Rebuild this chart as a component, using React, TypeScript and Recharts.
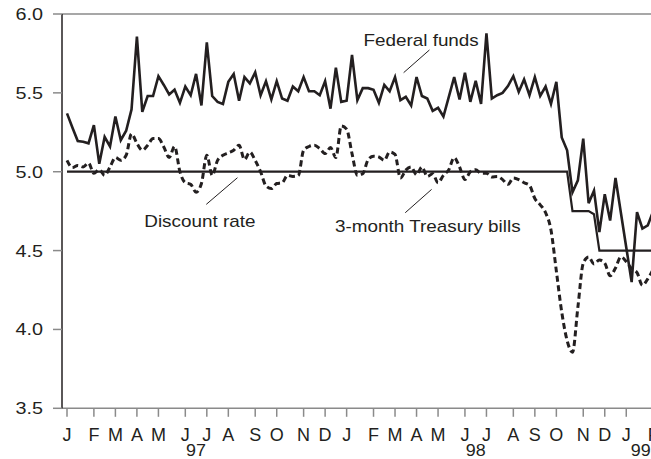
import React from 'react';
import { LineChart, Line, XAxis, YAxis, ReferenceLine, ReferenceDot } from 'recharts';

// weekly averages, week 0 = first week of Jan 1997
const fedFunds = [
  5.37, 5.28, 5.195, 5.19, 5.18, 5.295, 5.05, 5.22, 5.16, 5.35,
  5.2, 5.26, 5.395, 5.856, 5.38, 5.48, 5.48, 5.606, 5.55, 5.49,
  5.52, 5.437, 5.54, 5.485, 5.62, 5.42, 5.82, 5.48, 5.443, 5.43,
  5.57, 5.62, 5.45, 5.6, 5.56, 5.63, 5.485, 5.574, 5.458, 5.574,
  5.464, 5.45, 5.54, 5.51, 5.6, 5.51, 5.51, 5.485, 5.574, 5.4,
  5.66, 5.443, 5.45, 5.74, 5.454, 5.53, 5.53, 5.52, 5.437, 5.55,
  5.51, 5.6, 5.454, 5.475, 5.42, 5.6, 5.48, 5.464, 5.386, 5.405,
  5.35, 5.475, 5.6, 5.458, 5.627, 5.443, 5.576, 5.43, 5.877, 5.464,
  5.485, 5.5, 5.543, 5.606, 5.506, 5.585, 5.485, 5.6, 5.48, 5.54,
  5.43, 5.57, 5.217, 5.136, 4.87, 4.945, 5.21, 4.8, 4.88, 4.617,
  4.857, 4.69, 4.96, 4.74, 4.52, 4.3, 4.744, 4.64, 4.66, 4.75,
];

const treasuryBills = [
  5.072, 5.026, 5.04, 5.03, 5.055, 4.99, 5.013, 4.977, 5.03, 5.09,
  5.072, 5.104, 5.24, 5.18, 5.136, 5.168, 5.21, 5.21, 5.157, 5.09,
  5.16, 5.0, 4.93, 4.92, 4.87, 4.925, 5.104, 4.977, 5.072, 5.104,
  5.12, 5.136, 5.168, 5.077, 5.125, 5.072, 5.0, 4.91, 4.893, 4.925,
  4.93, 4.977, 4.97, 4.975, 5.136, 5.16, 5.168, 5.147, 5.115, 5.153,
  5.09, 5.29, 5.27, 5.115, 4.977, 4.987, 5.077, 5.098, 5.093, 5.072,
  5.125, 5.11, 4.96, 5.01, 5.03, 4.98, 5.03, 4.97, 4.987, 4.93,
  4.977, 5.013, 5.09, 5.03, 4.95, 5.0, 5.013, 4.99, 4.99, 4.967,
  4.97, 4.95, 4.92, 4.96, 4.95, 4.93, 4.914, 4.83, 4.79, 4.74,
  4.63, 4.37, 4.11, 3.93, 3.855, 4.14, 4.42, 4.46, 4.415, 4.44,
  4.42, 4.34, 4.39, 4.46, 4.43, 4.385, 4.36, 4.28, 4.32, 4.38,
];

const discountWeeks = [0, 93, 94, 97, 98, 99, 109];
const discountRates = [5.0, 5.0, 4.75, 4.75, 4.73, 4.5, 4.5];

const monthTicks = [0, 5, 9, 13, 17, 22, 26, 30, 35, 39, 44, 48, 52, 57, 61, 65, 69, 74, 78, 83, 87, 91, 96, 100, 104, 109];
const monthLabels = ['J', 'F', 'M', 'A', 'M', 'J', 'J', 'A', 'S', 'O', 'N', 'D', 'J', 'F', 'M', 'A', 'M', 'J', 'J', 'A', 'S', 'O', 'N', 'D', 'J', 'F'];
const yearTicks = [24, 76, 106.7];
const yearLabels = ['97', '98', '99'];
const rateTicks = [3.5, 4, 4.5, 5, 5.5, 6];

const weekly = fedFunds.map((fed, week) => ({ week, fed, bills: treasuryBills[week] }));
const discount = discountWeeks.map((week, i) => ({ week, rate: discountRates[i] }));

const INK = '#231f20';
const GREY = '#8a8a8a';
const FONT = '"Liberation Sans", Arial, Helvetica, sans-serif';
const X_DOMAIN: [number, number] = [-0.93, 108.6];

const notes = [
  { text: 'Federal funds', at: [65.85, 5.797], line: [[67.4, 5.772], [62.6, 5.628]] },
  { text: 'Discount rate', at: [24.7, 4.647], line: [[25.9, 4.793], [31.7, 4.962]] },
  { text: '3-month Treasury bills', at: [67.1, 4.62], line: [[62.9, 4.74], [67.8, 4.888]] },
];

const RateTick = (props: any) => {
  const { x, y, payload } = props;
  return (
    <text
      transform={`translate(${x},${y + 6}) scale(1.2,1)`}
      textAnchor="end"
      fontSize={16.5}
      fontFamily={FONT}
      fill={INK}
    >
      {payload.value.toFixed(1)}
    </text>
  );
};

const MonthTick = (props: any) => {
  const { x, y, payload } = props;
  return (
    <text x={x} y={y + 22} textAnchor="middle" fontSize={18} fontFamily={FONT} fill={INK}>
      {monthLabels[monthTicks.indexOf(payload.value)]}
    </text>
  );
};

const YearTick = (props: any) => {
  const { x, y, payload } = props;
  return (
    <text
      transform={`translate(${x},${y + 19.7}) scale(1.12,1)`}
      textAnchor="middle"
      fontSize={16}
      fontFamily={FONT}
      fill={INK}
    >
      {yearLabels[yearTicks.indexOf(payload.value)]}
    </text>
  );
};

const NoteText = (text: string) => (props: any) => (
  <text
    transform={`translate(${props.cx},${props.cy}) scale(1.18,1)`}
    textAnchor="middle"
    fontSize={16}
    fontFamily={FONT}
    fill={INK}
  >
    {text}
  </text>
);

export default function App() {
  return (
    <div style={{ position: 'absolute', left: 0, top: 0, width: 651, height: 459, background: '#fff' }}>
      <LineChart width={651} height={459} data={weekly} margin={{ top: 14, right: 0, bottom: 0, left: 0 }}>
        <XAxis
          dataKey="week"
          type="number"
          domain={X_DOMAIN}
          allowDataOverflow
          ticks={monthTicks}
          interval={0}
          height={28}
          tickSize={8.5}
          tickMargin={2}
          axisLine={{ stroke: GREY, strokeWidth: 1.5 }}
          tickLine={{ stroke: GREY, strokeWidth: 1.5 }}
          tick={<MonthTick />}
        />
        <XAxis
          xAxisId="year"
          dataKey="week"
          type="number"
          domain={X_DOMAIN}
          allowDataOverflow
          ticks={yearTicks}
          interval={0}
          height={22.7}
          tickSize={0}
          tickMargin={0}
          axisLine={false}
          tickLine={false}
          tick={<YearTick />}
        />
        <YAxis
          type="number"
          domain={[3.5, 6]}
          ticks={rateTicks}
          interval={0}
          width={62}
          tickSize={9}
          tickMargin={10}
          axisLine={{ stroke: INK, strokeWidth: 1.5 }}
          tickLine={{ stroke: GREY, strokeWidth: 1.5 }}
          tick={<RateTick />}
        />
        <ReferenceLine y={6} stroke={GREY} strokeWidth={1.5} />
        {notes.map((n) => (
          <ReferenceLine
            key={n.text + '-line'}
            segment={[{ x: n.line[0][0], y: n.line[0][1] }, { x: n.line[1][0], y: n.line[1][1] }]}
            stroke={INK}
            strokeWidth={1}
            ifOverflow="visible"
          />
        ))}
        {notes.map((n) => (
          <ReferenceDot
            key={n.text}
            x={n.at[0]}
            y={n.at[1]}
            r={0}
            ifOverflow="visible"
            shape={NoteText(n.text)}
          />
        ))}
        <Line
          dataKey="bills"
          type="monotone"
          stroke={INK}
          strokeWidth={3}
          strokeDasharray="6 3.5"
          dot={false}
          activeDot={false}
          isAnimationActive={false}
        />
        <Line
          data={discount}
          dataKey="rate"
          type="linear"
          stroke={INK}
          strokeWidth={2.2}
          dot={false}
          activeDot={false}
          isAnimationActive={false}
        />
        <Line
          dataKey="fed"
          type="linear"
          stroke={INK}
          strokeWidth={2.6}
          dot={false}
          activeDot={false}
          isAnimationActive={false}
        />
      </LineChart>
    </div>
  );
}
